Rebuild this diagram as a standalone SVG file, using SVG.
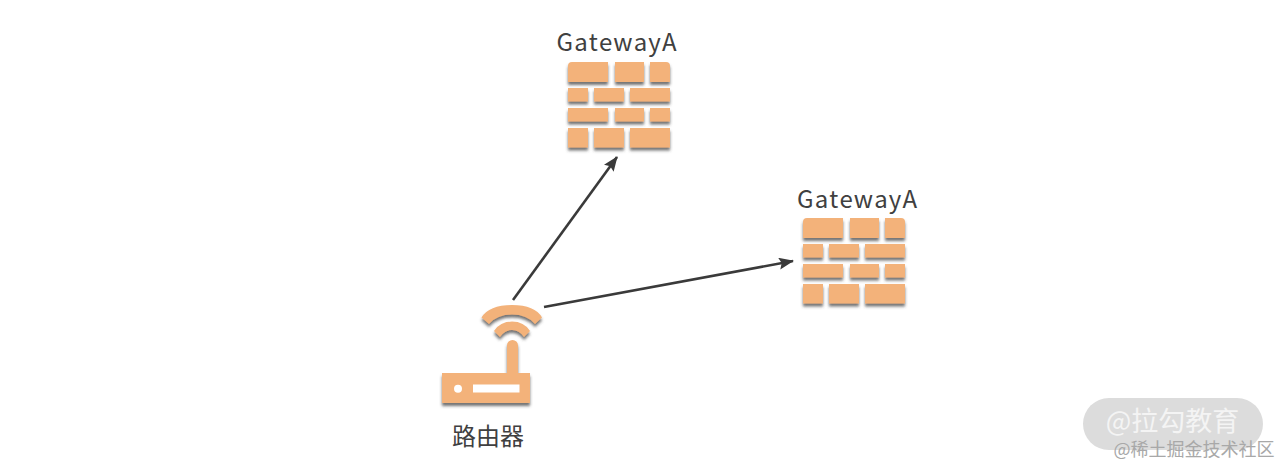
<svg xmlns="http://www.w3.org/2000/svg" width="1280" height="466" viewBox="0 0 1280 466">
<style>
.lbl{font-family:"Noto Sans CJK SC","Noto Sans",sans-serif;font-size:24px;fill:#404040;text-anchor:middle;font-kerning:none}
.b{fill:#f3b27a}
.c{stroke:#3a3a3a;stroke-width:2.6;fill:none;marker-end:url(#ah)}
</style>
<defs>
<filter id="sh" x="-15%" y="-15%" width="130%" height="130%"><feDropShadow dx="0" dy="3" stdDeviation="1.800" flood-color="#444" flood-opacity=".75"/></filter>
<marker id="ah" markerUnits="userSpaceOnUse" markerWidth="16" markerHeight="14" refX="14" refY="6" orient="auto"><path d="M0 0L15 6L0 12L2.5 6Z" fill="#3a3a3a"/></marker>
<g id="wall">
<path class="b" d="M568 66a4 4 0 0 1 4-4h36v20h-40z"/>
<rect class="b" x="615" y="62" width="29" height="20"/>
<path class="b" d="M650 62h16a4 4 0 0 1 4 4v16h-20z"/>
<rect class="b" x="568" y="88" width="20" height="13.500"/>
<rect class="b" x="594" y="88" width="30" height="13.500"/>
<rect class="b" x="630" y="88" width="40" height="13.500"/>
<rect class="b" x="568" y="108" width="40" height="13.500"/>
<rect class="b" x="615" y="108" width="29" height="13.500"/>
<rect class="b" x="650" y="108" width="20" height="13.500"/>
<rect class="b" x="568" y="128" width="20" height="19.500"/>
<rect class="b" x="594" y="128" width="30" height="19.500"/>
<rect class="b" x="630" y="128" width="40" height="19.500"/>
</g>
</defs>
<rect width="1280" height="466" fill="#fff"/>
<g id="connectors">
<line class="c" x1="513" y1="300" x2="617" y2="157"/>
<line class="c" x1="544" y1="307" x2="793" y2="261"/>
</g>
<g id="gateway-a-top">
<text class="lbl" x="616.500" y="51" textLength="120" lengthAdjust="spacing">GatewayA</text>
<use href="#wall" filter="url(#sh)"/>
</g>
<g id="gateway-a-right">
<text class="lbl" x="857" y="208" textLength="120" lengthAdjust="spacing">GatewayA</text>
<use href="#wall" x="235" y="156" filter="url(#sh)"/>
</g>
<g id="router">
<g filter="url(#sh)">
<path class="b" d="M481.500 317.500Q489 305 512 305Q535 305 542 317.500L535 324Q527 314.500 512 314.500Q497 314.500 489 324Z"/>
<path class="b" d="M494 331Q500 321.500 512 321.500Q524 321.500 530 331L524 337Q519 330 512 330Q505 330 500 337Z"/>
<path class="b" d="M507 373V345.500a5.500 5.500 0 0 1 11 0V373h12v30h-88v-30z"/>
</g>
<circle cx="458" cy="388.700" r="4" fill="#fff"/>
<rect x="473" y="384.500" width="46.500" height="8" fill="#fff"/>
<text class="lbl" x="488" y="445">路由器</text>
</g>
<g id="watermark">
<rect x="1083" y="398" width="180" height="52" rx="26" fill="#dcdcdc"/>
<text x="1172.500" y="431" font-family="'Noto Sans CJK SC',sans-serif" font-size="27" fill="#f4f4f4" text-anchor="middle">@拉勾教育</text>
<text x="1194" y="456" font-family="'Noto Sans CJK SC',sans-serif" font-size="18" fill="#a8a8a8" text-anchor="middle">@稀土掘金技术社区</text>
</g>
</svg>
